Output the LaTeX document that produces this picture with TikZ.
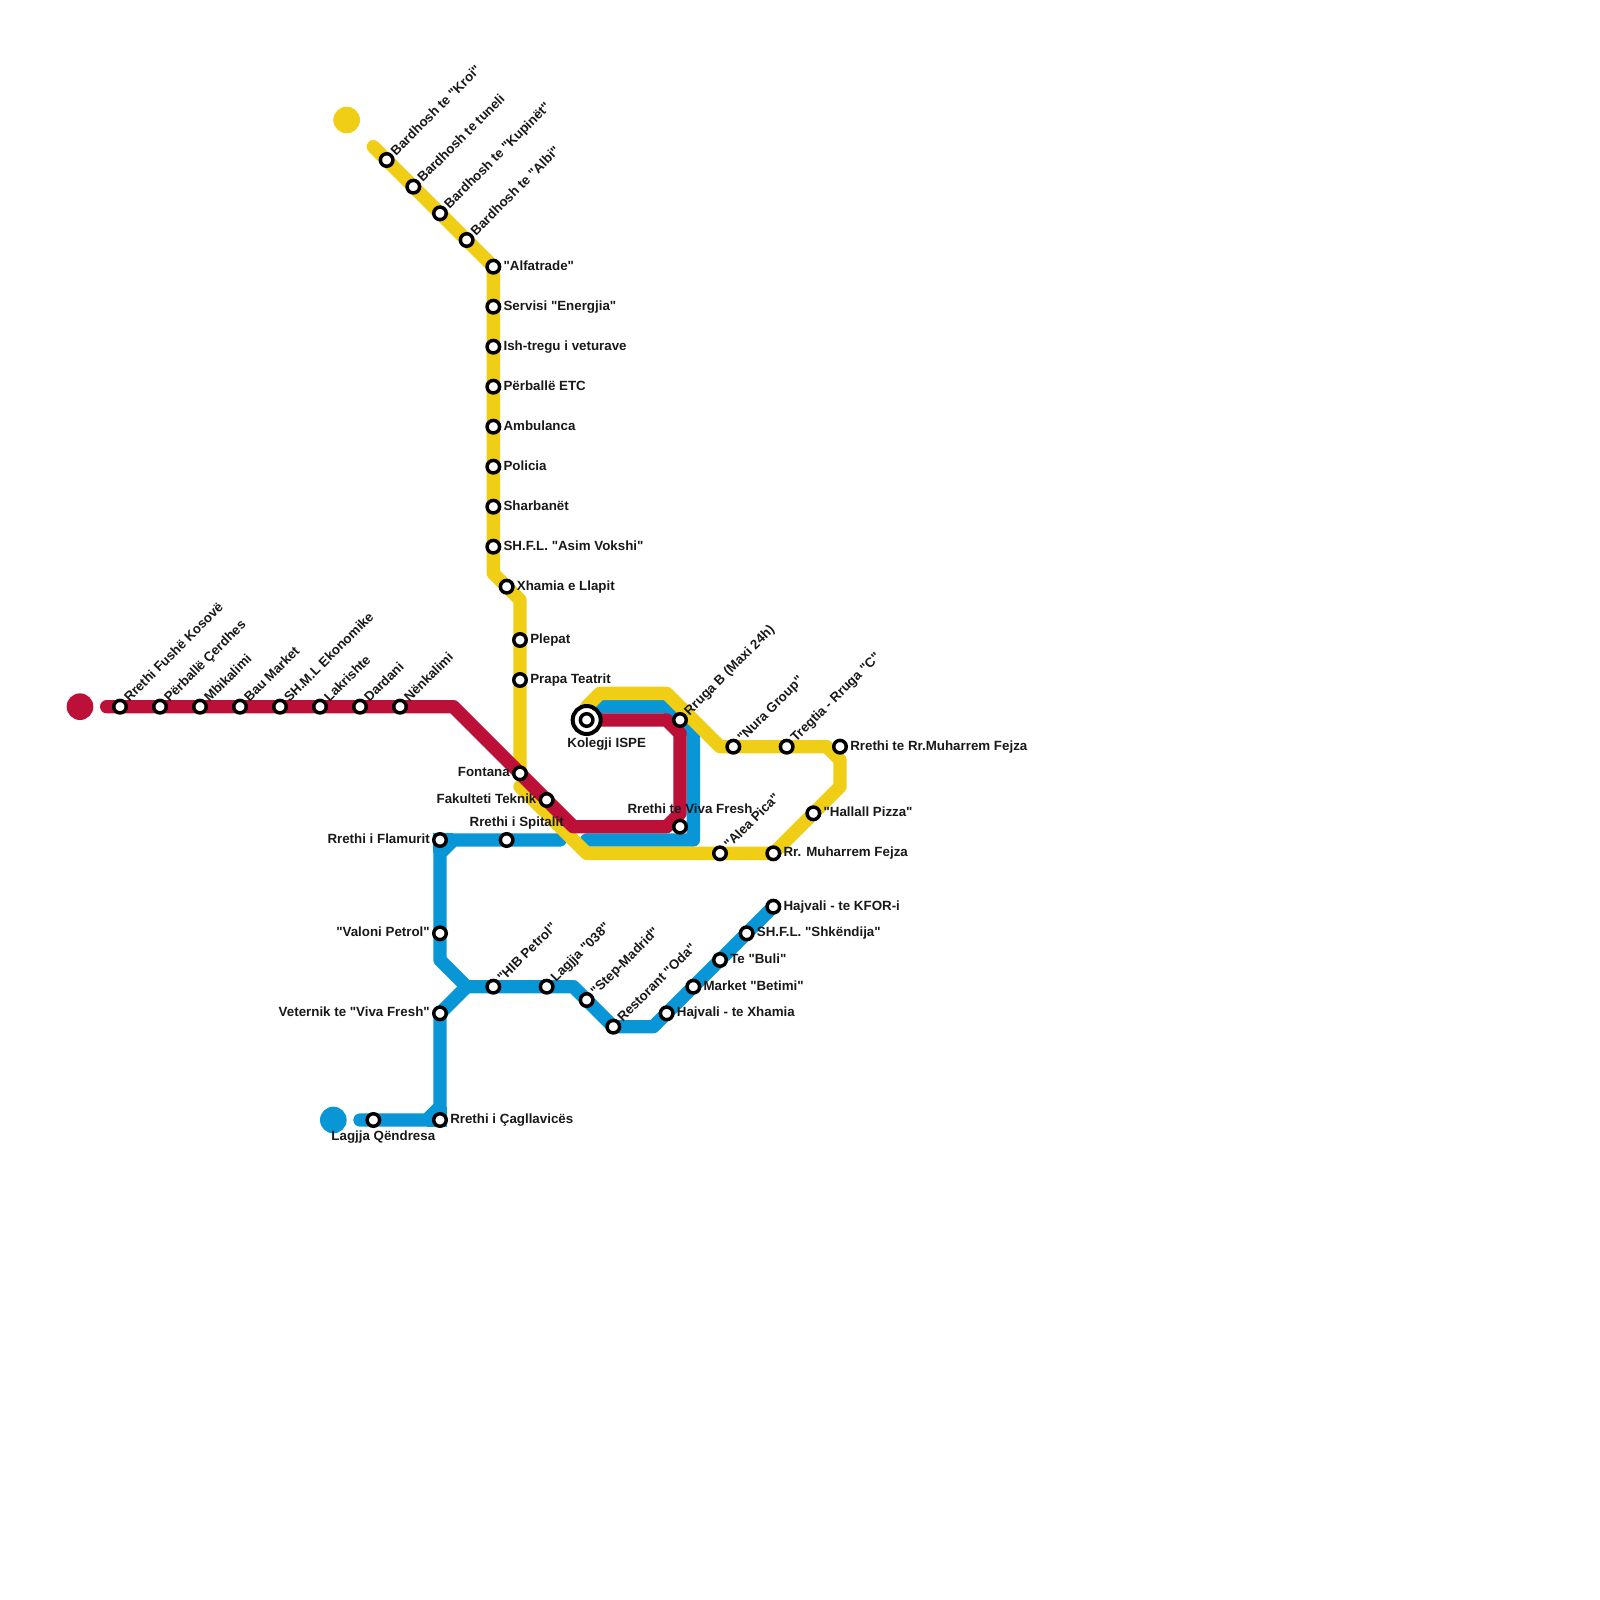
\documentclass[tikz,border=0pt]{standalone}
\usepackage{fontspec}
\newfontfamily\stationfont{Liberation Sans}
\usepackage{xcolor}
\definecolor{LineRed}{HTML}{BD1038}
\definecolor{LineYellow}{HTML}{F0CE15}
\definecolor{LineBlue}{HTML}{0896D7}
\tikzset{
	metro/.style={line width=10pt, line cap=round, line join=round},
	patch/.style={line width=10pt, line cap=butt, line join=miter},
	stn/.style={circle, draw=black, fill=white, line width=2.6pt, inner sep=0pt, minimum size=9.4pt},
	stnbig/.style={circle, draw=black, fill=white, line width=3pt, inner sep=0pt, minimum size=21pt},
	lbl/.style={inner sep=0pt, font=\stationfont\fontsize{10}{12}\selectfont\bfseries, text=black!90},
	lblr/.style={lbl, anchor=base west, xshift=7.5pt, yshift=-2.5pt},
	lbll/.style={lbl, anchor=base east, xshift=-7.5pt, yshift=-2.5pt},
	lbld/.style={lbl, anchor=base west, xshift=7pt, yshift=2.8pt, rotate=45},
	lblc/.style={lbl, anchor=base},
	blob/.style={circle, inner sep=0pt, minimum size=20pt}
}
\begin{document}
\begin{tikzpicture}[x=10pt, y=-10pt]
	\useasboundingbox (0,0) rectangle (120,120);
	
	% Bends of the lines
	\coordinate (r1) at (8,53);
	\coordinate (r2) at (34,53);
	\coordinate (r3) at (43,62);
	\coordinate (r4) at (50,62);
	\coordinate (r5) at (51,61);
	\coordinate (r6) at (51,55);
	\coordinate (r7) at (50,54);
	\coordinate (r8) at (44,54);
	
	\coordinate (y1) at (28,11);
	\coordinate (y2) at (37,20);
	\coordinate (y3) at (37,43);
	\coordinate (y4) at (39,45);
	\coordinate (y5) at (39,58);
	\coordinate (y6) at (39,59);
	\coordinate (y7) at (44,64);
	\coordinate (y8) at (58,64);
	\coordinate (y9) at (63,59);
	\coordinate (y10) at (63,57);
	\coordinate (y11) at (62,56);
	\coordinate (y12) at (54,56);
	\coordinate (y13) at (50,52);
	\coordinate (y14) at (45,52);
	\coordinate (y15) at (44,53);
	
	\coordinate (b1) at (44,54);
	\coordinate (b2) at (45,53);
	\coordinate (b3) at (50,53);
	\coordinate (b4) at (52,55);
	\coordinate (b5) at (52,63);
	\coordinate (b6) at (44,63);
	\coordinate (b7) at (42,63);
	\coordinate (b8) at (34,63);
	\coordinate (b9) at (33,64);
	\coordinate (b10) at (33,63);
	\coordinate (b11) at (33,72);
	\coordinate (b12) at (35,74);
	\coordinate (b13) at (43,74);
	\coordinate (b14) at (46,77);
	\coordinate (b15) at (49,77);
	\coordinate (b16) at (58,68);
	\coordinate (b17) at (33,76);
	\coordinate (b18) at (33,83);
	\coordinate (b19) at (33,84);
	\coordinate (b20) at (32,84);
	\coordinate (b21) at (27,84);
	
	% Blue line
	\draw[metro, LineBlue] (b1) -- (b2) -- (b3) -- (b4) -- (b5) -- (b6);
	\draw[metro, LineBlue] (b7) -- (b8) -- (b9) -- (b11) -- (b12) -- (b13) -- (b14) -- (b15) -- (b16);
	\draw[patch, LineBlue] (b8) -- (b10) -- (b9);
	\draw[metro, LineBlue] (b17) -- (b12);
	\draw[metro, LineBlue] (b17) -- (b18) -- (b20) -- (b21);
	\draw[patch, LineBlue] (b18) -- (b19) -- (b20);
	
	% Yellow line
	\draw[metro, LineYellow] (y1) -- (y2) -- (y3) -- (y4) -- (y5);
	\draw[metro, LineYellow] (y6) -- (y7) -- (y8) -- (y9) -- (y10) -- (y11) -- (y12) -- (y13) -- (y14) -- (y15);
	
	% Red line
	\draw[metro, LineRed] (r1) -- (r2) -- (r3) -- (r4) -- (r5) -- (r6) -- (r7) -- (r8);
	
	% Line ends
	\node[blob, fill=LineRed] (endred) at (6,53) {};
	\node[blob, fill=LineYellow] (endyellow) at (26,9) {};
	\node[blob, fill=LineBlue] (endblue) at (25,84) {};
	
	% Red stations
	\node[stn] (fushe) at (9,53) {};
	\node[stn] (cerdhes) at (12,53) {};
	\node[stn] (mbikalimi) at (15,53) {};
	\node[stn] (bau) at (18,53) {};
	\node[stn] (shml) at (21,53) {};
	\node[stn] (lakrishte) at (24,53) {};
	\node[stn] (dardani) at (27,53) {};
	\node[stn] (nenkalimi) at (30,53) {};
	\node[lbld] (fushetxt) at (fushe) {Rrethi Fushë Kosovë};
	\node[lbld] (cerdhestxt) at (cerdhes) {Përballë Çerdhes};
	\node[lbld] (mbikalimitxt) at (mbikalimi) {Mbikalimi};
	\node[lbld] (bautxt) at (bau) {Bau Market};
	\node[lbld] (shmltxt) at (shml) {SH.M.L Ekonomike};
	\node[lbld] (lakrishtetxt) at (lakrishte) {Lakrishte};
	\node[lbld] (dardanitxt) at (dardani) {Dardani};
	\node[lbld] (nenkalimitxt) at (nenkalimi) {Nënkalimi};
	
	% Yellow stations
	\node[stn] (kroi) at (29,12) {};
	\node[stn] (tuneli) at (31,14) {};
	\node[stn] (kupinet) at (33,16) {};
	\node[stn] (albi) at (35,18) {};
	\node[stn] (alfatrade) at (37,20) {};
	\node[stn] (energjia) at (37,23) {};
	\node[stn] (veturave) at (37,26) {};
	\node[stn] (etc) at (37,29) {};
	\node[stn] (ambulanca) at (37,32) {};
	\node[stn] (policia) at (37,35) {};
	\node[stn] (sharbanet) at (37,38) {};
	\node[stn] (vokshi) at (37,41) {};
	\node[stn] (xhamia) at (38,44) {};
	\node[stn] (plepat) at (39,48) {};
	\node[stn] (teatrit) at (39,51) {};
	\node[stn] (fontana) at (39,58) {};
	\node[stn] (teknik) at (41,60) {};
	\node[stn] (pica) at (54,64) {};
	\node[stn] (fejza) at (58,64) {};
	\node[stn] (hallall) at (61,61) {};
	\node[stn] (rrfejza) at (63,56) {};
	\node[stn] (tregtia) at (59,56) {};
	\node[stn] (nura) at (55,56) {};
	\node[stn] (maxi) at (51,54) {};
	\node[stnbig] (ispering) at (44,54) {};
	\node[stn] (ispe) at (44,54) {};
	\node[lbld] (kroitxt) at (kroi) {Bardhosh te "Kroi"};
	\node[lbld] (tunelitxt) at (tuneli) {Bardhosh te tuneli};
	\node[lbld] (kupinettxt) at (kupinet) {Bardhosh te "Kupinët"};
	\node[lbld] (albitxt) at (albi) {Bardhosh te "Albi"};
	\node[lblr] (alfatradetxt) at (alfatrade) {"Alfatrade"};
	\node[lblr] (energjiatxt) at (energjia) {Servisi "Energjia"};
	\node[lblr] (veturavetxt) at (veturave) {Ish-tregu i veturave};
	\node[lblr] (etctxt) at (etc) {Përballë ETC};
	\node[lblr] (ambulancatxt) at (ambulanca) {Ambulanca};
	\node[lblr] (policiatxt) at (policia) {Policia};
	\node[lblr] (sharbanettxt) at (sharbanet) {Sharbanët};
	\node[lblr] (vokshitxt) at (vokshi) {SH.F.L. "Asim Vokshi"};
	\node[lblr] (xhamiatxt) at (xhamia) {Xhamia e Llapit};
	\node[lblr] (plepattxt) at (plepat) {Plepat};
	\node[lblr] (teatrittxt) at (teatrit) {Prapa Teatrit};
	\node[lbll] (fontanatxt) at (fontana) {Fontana};
	\node[lbll] (tekniktxt) at (teknik) {Fakulteti Teknik};
	\node[lbld] (picatxt) at (pica) {"Alea Pica"};
	\node[lblr] (fejzatxt) at (fejza) {Rr. Muharrem Fejza};
	\node[lblr] (hallalltxt) at (hallall) {"Hallall Pizza"};
	\node[lblr] (rrfejzatxt) at (rrfejza) {Rrethi te Rr.Muharrem Fejza};
	\node[lbld] (tregtiatxt) at (tregtia) {Tregtia - Rruga "C"};
	\node[lbld] (nuratxt) at (nura) {"Nura Group"};
	\node[lbld] (maxitxt) at (maxi) {Rruga B (Maxi 24h)};
	\node[lblc, xshift=15pt, yshift=-20.5pt] (ispetxt) at (ispe) {Kolegji ISPE};
	
	% Blue stations
	\node[stn] (vivafresh) at (51,62) {};
	\node[stn] (spitalit) at (38,63) {};
	\node[stn] (flamurit) at (33,63) {};
	\node[stn] (valoni) at (33,70) {};
	\node[stn] (veternik) at (33,76) {};
	\node[stn] (cagllavices) at (33,84) {};
	\node[stn] (qendresa) at (28,84) {};
	\node[stn] (hib) at (37,74) {};
	\node[stn] (lagjja) at (41,74) {};
	\node[stn] (madrid) at (44,75) {};
	\node[stn] (oda) at (46,77) {};
	\node[stn] (xhamiah) at (50,76) {};
	\node[stn] (betimi) at (52,74) {};
	\node[stn] (buli) at (54,72) {};
	\node[stn] (shkendija) at (56,70) {};
	\node[stn] (kfor) at (58,68) {};
	\node[lblc, xshift=7.5pt, yshift=10pt] (vivafreshtxt) at (vivafresh) {Rrethi te Viva Fresh};
	\node[lblc, xshift=7.5pt, yshift=10pt] (spitalittxt) at (spitalit) {Rrethi i Spitalit};
	\node[lbll] (flamurittxt) at (flamurit) {Rrethi i Flamurit};
	\node[lbll] (valonitxt) at (valoni) {"Valoni Petrol"};
	\node[lbll] (veterniktxt) at (veternik) {Veternik te "Viva Fresh"};
	\node[lblr] (cagllavicestxt) at (cagllavices) {Rrethi i Çagllavicës};
	\node[lblc, xshift=7.5pt, yshift=-15pt] (qendresatxt) at (qendresa) {Lagjja Qëndresa};
	\node[lbld] (hibtxt) at (hib) {"HIB Petrol"};
	\node[lbld] (lagjjatxt) at (lagjja) {Lagjja "038"};
	\node[lbld] (madridtxt) at (madrid) {"Step-Madrid"};
	\node[lbld] (odatxt) at (oda) {Restorant "Oda"};
	\node[lblr] (xhamiahtxt) at (xhamiah) {Hajvali - te Xhamia};
	\node[lblr] (betimitxt) at (betimi) {Market "Betimi"};
	\node[lblr] (bulitxt) at (buli) {Te "Buli"};
	\node[lblr] (shkendijatxt) at (shkendija) {SH.F.L. "Shkëndija"};
	\node[lblr] (kfortxt) at (kfor) {Hajvali - te KFOR-i};
\end{tikzpicture}
\end{document}
